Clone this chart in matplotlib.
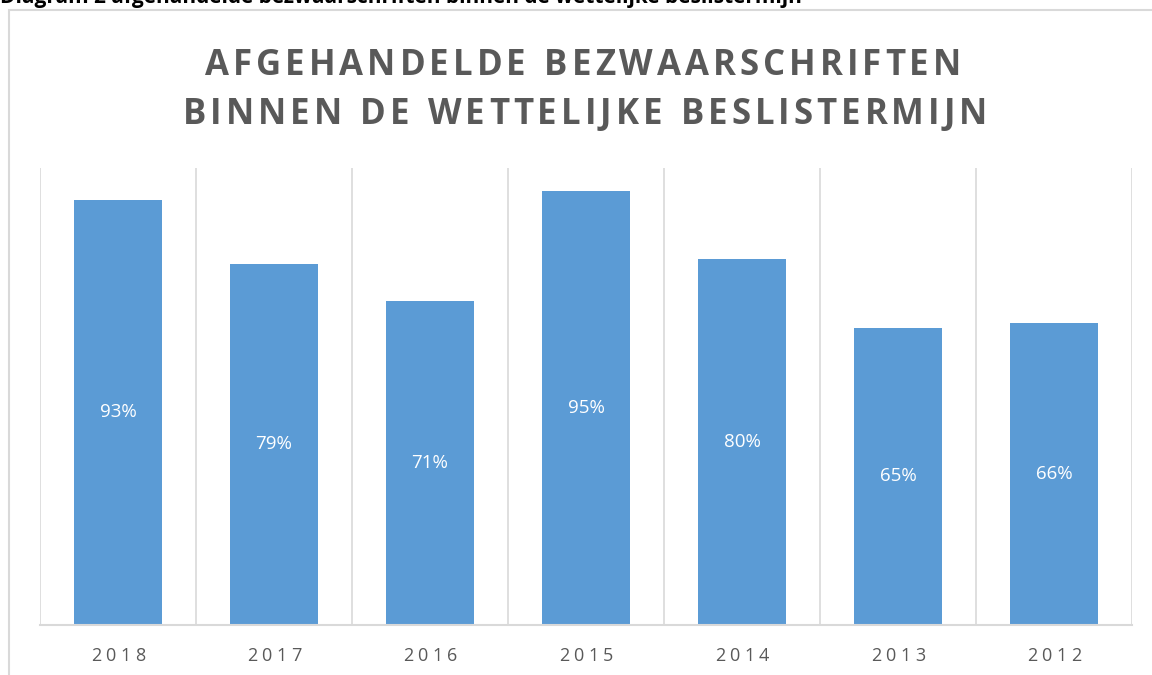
import matplotlib
matplotlib.use("Agg")
import matplotlib.pyplot as plt
from matplotlib.patches import Rectangle

years = ["2018", "2017", "2016", "2015", "2014", "2013", "2012"]
pct = [93, 79, 71, 95, 80, 65, 66]
title_lines = ["AFGEHANDELDE BEZWAARSCHRIFTEN", "BINNEN DE WETTELIJKE BESLISTERMIJN"]
caption = "Diagram 2 afgehandelde bezwaarschriften binnen de wettelijke beslistermijn"

W, H = 1152, 675
fig = plt.figure(figsize=(W / 100, H / 100), dpi=100)
plt.rcParams["font.family"] = ["Open Sans", "DejaVu Sans"]
grey = "#595959"
light = "#d9d9d9"


def spaced_text(x_px, y_px, s, spacing, **kw):
    # draw text char by char with extra letter spacing, centred on x_px
    r = fig.canvas.get_renderer()
    widths = []
    for ch in s:
        t = fig.text(0, 0, ch if ch != " " else "n", **kw)
        w = t.get_window_extent(r).width
        if ch == " ":
            w *= 0.45
        widths.append(w)
        t.remove()
    total = sum(widths) + spacing * (len(s) - 1)
    x = x_px - total / 2
    for ch, w in zip(s, widths):
        if ch != " ":
            fig.text(x / W, 1 - y_px / H, ch, ha="left", va="baseline", **kw)
        x += w + spacing


# chart border
fig.patches.append(Rectangle((9 / W, -0.1), 1.2, 1 - 10 / H + 0.1, transform=fig.transFigure,
                             fill=False, edgecolor=light, linewidth=1.5))

fig.text(0, 1 - 3 / H, caption, ha="left", va="baseline", fontsize=15, fontweight="bold",
         color="black")

ax = fig.add_axes([40 / W, 1 - 625 / H, (1132 - 40) / W, (625 - 168) / H])
x = range(len(years))
bars = ax.bar(x, pct, width=0.56, color="#5b9bd5", zorder=2)
for b, v in zip(bars, pct):
    ax.text(b.get_x() + b.get_width() / 2, v / 2, f"{v}%", ha="center", va="center",
            color="white", fontsize=13.5)

ax.set_xlim(-0.5, len(years) - 0.5)
ax.set_ylim(0, 100)
for i in range(len(years) + 1):
    ax.axvline(i - 0.5, color=light, linewidth=1.2, zorder=1)
for s in ["top", "left", "right"]:
    ax.spines[s].set_visible(False)
ax.spines["bottom"].set_color(light)
ax.spines["bottom"].set_linewidth(1.5)
ax.set_xticks([])
ax.set_yticks([])

for i, y in enumerate(years):
    cx = 40 + (i + 0.5) * (1132 - 40) / len(years)
    spaced_text(cx, 661, y, 4.5, fontsize=13, color=grey)

spaced_text(583, 75, title_lines[0], 4.0, fontsize=25, fontweight="bold", color=grey)
spaced_text(585, 124, title_lines[1], 4.0, fontsize=25, fontweight="bold", color=grey)

fig.savefig("out.png", dpi=100)
